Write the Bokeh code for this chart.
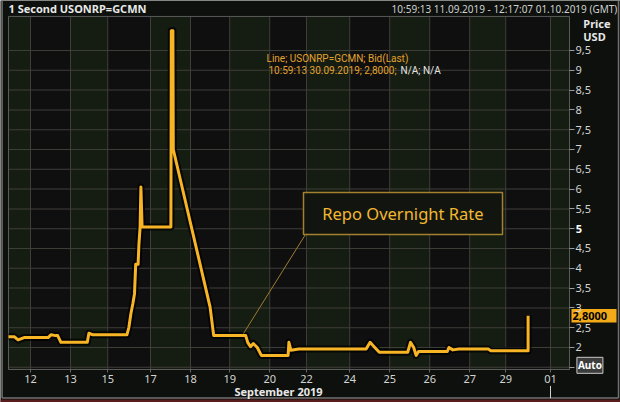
from bokeh.plotting import figure
from bokeh.models import Range1d, FixedTicker, Label, LinearAxis
from bokeh.embed import file_html
from bokeh.resources import INLINE

# --- data -------------------------------------------------------------
tick_pos = [0, 1.0, 1.93, 3.0, 4.0, 4.98, 5.98, 6.9, 7.98, 8.98, 9.98, 10.98, 11.88, 13.0]
tick_labels = ["12", "13", "15", "17", "18", "19", "20", "22", "24", "25", "26", "27", "29", "01"]
month_start = 13.0

price_ticks = [1.5, 2, 2.5, 3, 3.5, 4, 4.5, 5, 5.5, 6, 6.5, 7, 7.5, 8, 8.5, 9, 9.5]
price_labels = ["", "2", "2,5", "3", "3,5", "4", "4,5", "", "5,5", "6", "6,5", "7", "7,5", "8", "8,5", "9", "9,5"]

t = [-0.55, -0.40, -0.31, -0.16, 0.44, 0.51, 0.63, 0.68, 0.76, 1.42, 1.46, 1.56, 2.41,
     2.46, 2.51, 2.56, 2.60, 2.63, 2.69, 2.71, 2.74, 2.76, 2.79, 3.51, 3.52, 3.56, 3.57,
     4.49, 4.58, 5.38, 5.43, 5.50, 5.57, 5.67, 5.77, 6.44, 6.46, 6.51, 6.71, 8.39, 8.49,
     8.59, 8.72, 9.43, 9.50, 9.58, 9.64, 9.70, 10.42, 10.46, 10.56, 10.71, 11.45, 11.50,
     12.44, 12.44]
rate = [2.27, 2.27, 2.19, 2.25, 2.25, 2.32, 2.30, 2.30, 2.13, 2.13, 2.36, 2.32, 2.32,
        2.51, 2.86, 3.11, 3.36, 4.10, 4.10, 4.60, 5.04, 6.05, 5.04, 5.04, 10.0, 10.0, 7.0,
        3.02, 2.30, 2.30, 2.13, 2.02, 2.10, 2.00, 1.80, 1.80, 2.13, 1.93, 1.96, 1.96, 2.13,
        2.02, 1.88, 1.88, 2.13, 2.00, 1.80, 1.90, 1.90, 2.00, 1.94, 1.96, 1.96, 1.92,
        1.92, 2.80]
last_price = 2.80
last_value = "2,8000"

# --- layout constants (data units of the full-canvas frame) ------------
CX0, CX1 = -0.75, 14.75          # whole canvas width
CY0, CY1 = 0.6111, 10.7626       # whole canvas height
X0, X1 = -0.55, 13.475           # plot area
Y0, Y1 = 1.444, 10.36
PXU = (CX1 - CX0) / 620          # one pixel in x data units
PYU = (CY1 - CY0) / 402          # one pixel in y data units
FONT = "Noto Sans"
GRID = "#3e3e39"

p = figure(width=620, height=402, x_range=Range1d(CX0, CX1), y_range=Range1d(CY0, CY1),
           output_backend="svg", toolbar_location=None,
           x_axis_location=None, y_axis_location=None, min_border=0,
           background_fill_color="#0d100c", border_fill_color="#0d100c",
           outline_line_color=None)
p.grid.visible = False

# plot area background and alternating day bands
p.quad(left=[X0], right=[X1], bottom=[Y0], top=[Y1], fill_color="#100f10", line_color=None)
edges = [X0] + tick_pos + [X1]
lefts, rights = [], []
for i in range(0, len(edges) - 1, 2):
    lefts.append(edges[i])
    rights.append(edges[i + 1])
p.quad(left=lefts, right=rights, bottom=[Y0] * len(lefts), top=[Y1] * len(lefts),
       fill_color="#151c11", line_color=None)

# grid lines at the tick positions (1-pixel wide bars)
n_x, n_y = len(tick_pos), len(price_ticks)
p.quad(left=[v - PXU / 2 for v in tick_pos], right=[v + PXU / 2 for v in tick_pos],
       bottom=[Y0] * n_x, top=[Y1] * n_x, fill_color=GRID, line_color=None)
p.quad(left=[X0] * n_y, right=[X1] * n_y, bottom=[v - PYU / 2 for v in price_ticks],
       top=[v + PYU / 2 for v in price_ticks], fill_color=GRID, line_color=None)

# plot outline
p.quad(left=[X0], right=[X1], bottom=[Y0], top=[Y1], fill_color=None,
       line_color="#5a5a5a", line_width=1)

# x axis
xa = LinearAxis(fixed_location=Y0, bounds=(X0, X1))
xa.ticker = FixedTicker(ticks=tick_pos)
xa.major_label_overrides = {k: v for k, v in zip(tick_pos, tick_labels)}
xa.minor_tick_line_color = None
xa.major_tick_in = 0
xa.major_tick_out = 3
xa.major_tick_line_color = "#666666"
xa.axis_line_color = "#5a5a5a"
xa.major_label_standoff = 2
xa.major_label_text_color = "#d4d4d4"
xa.major_label_text_font = FONT
xa.major_label_text_font_size = "11px"
p.add_layout(xa, "below")

# y axis with labels (right)
ya = LinearAxis(fixed_location=X1, bounds=(Y0, Y1))
ya.ticker = FixedTicker(ticks=price_ticks)
ya.major_label_overrides = {k: v for k, v in zip(price_ticks, price_labels)}
ya.minor_tick_line_color = None
ya.major_tick_in = 0
ya.major_tick_out = 5
ya.major_tick_line_color = "#9a9a9a"
ya.axis_line_color = "#5a5a5a"
ya.major_label_standoff = 1
ya.major_label_text_color = "#d4d4d4"
ya.major_label_text_font = FONT
ya.major_label_text_font_size = "11px"
p.add_layout(ya, "right")

# window border and bottom strip
p.quad(left=[CX0], right=[CX1], bottom=[CY0], top=[0.69], fill_color="#5a1d1d", line_color=None)
p.segment(x0=[-0.71, -0.71, 14.70], y0=[CY1, 0.722, CY1], x1=[-0.71, 14.70, 14.70],
          y1=[0.722, 0.722, 0.722], line_color="#707070", line_width=1.5)
p.segment(x0=[month_start], y0=[1.03], x1=[month_start], y1=[0.722], line_color="#d0d0d0",
          line_width=1)

# price line with dark halo
p.line(t, rate, line_color="#000000", line_width=7, line_alpha=0.75, line_join="round")
p.line(t, rate, line_color="#f7b526", line_width=3, line_join="round")

# callout box
p.quad(left=[6.825], right=[11.8], bottom=[4.854], top=[5.914],
       fill_color="#12150f", line_color="#a3812e", line_width=1.5)
p.segment(x0=[6.875], y0=[4.854], x1=[5.325], y1=[2.354], line_color="#9c7c30", line_width=1)
p.add_layout(Label(x=9.31, y=5.38, text="Repo Overnight Rate", text_align="center",
                   text_baseline="middle", text_color="#f2b830", text_font=FONT,
                   text_font_size="16.5px"))

# data tip text
p.add_layout(Label(x=5.9, y=9.30, text="Line; USONRP=GCMN; Bid(Last)", text_baseline="middle",
                   text_color="#e2a32c", text_font="Roboto", text_font_size="10px"))
p.add_layout(Label(x=5.95, y=8.99, text="10:59:13 30.09.2019; 2,8000;", text_baseline="middle",
                   text_color="#e2a32c", text_font="Roboto", text_font_size="10px"))
p.add_layout(Label(x=9.25, y=8.99, text="N/A; N/A", text_baseline="middle",
                   text_color="#e4e4e4", text_font="Roboto", text_font_size="10px"))

# last-price marker on the price scale
p.quad(left=[13.525], right=[14.65], bottom=[last_price - 0.17], top=[last_price + 0.17],
       fill_color="#f2aa18", line_color=None)
p.add_layout(Label(x=13.55, y=last_price, text=last_value, text_baseline="middle",
                   text_color="#000000", text_font=FONT, text_font_size="11px",
                   text_font_style="bold"))

# labels around the plot area
p.add_layout(Label(x=13.82, y=10.18, text="Price", text_baseline="middle", text_color="#e8e8e8",
                   text_font=FONT, text_font_size="11px", text_font_style="bold"))
p.add_layout(Label(x=13.82, y=9.85, text="USD", text_baseline="middle", text_color="#e8e8e8",
                   text_font=FONT, text_font_size="11px", text_font_style="bold"))
p.add_layout(Label(x=13.63, y=5.0, text="5", text_baseline="middle", text_color="#ffffff",
                   text_font=FONT, text_font_size="11px", text_font_style="bold"))
p.add_layout(Label(x=13.66, y=1.55, text="Auto", text_baseline="middle", text_color="#ffffff",
                   background_fill_color="#3c3c3c", border_line_color="#c8c8c8",
                   text_font=FONT, text_font_size="10px", text_font_style="bold", padding=1))
p.add_layout(Label(x=6.2, y=0.89, text="September 2019", text_align="center",
                   text_baseline="middle", text_color="#e8e8e8", text_font=FONT,
                   text_font_size="11px", text_font_style="bold"))

# title bar
p.add_layout(Label(x=-0.55, y=10.56, text="1 Second USONRP=GCMN", text_baseline="middle",
                   text_color="#e8e8e8", text_font=FONT, text_font_size="11px",
                   text_font_style="bold"))
p.add_layout(Label(x=14.67, y=10.56, text="10:59:13 11.09.2019 - 12:17:07 01.10.2019 (GMT)",
                   text_align="right", text_baseline="middle", text_color="#d0d0d0",
                   text_font=FONT, text_font_size="10px"))

open("out.html", "w").write(file_html(p, INLINE))
